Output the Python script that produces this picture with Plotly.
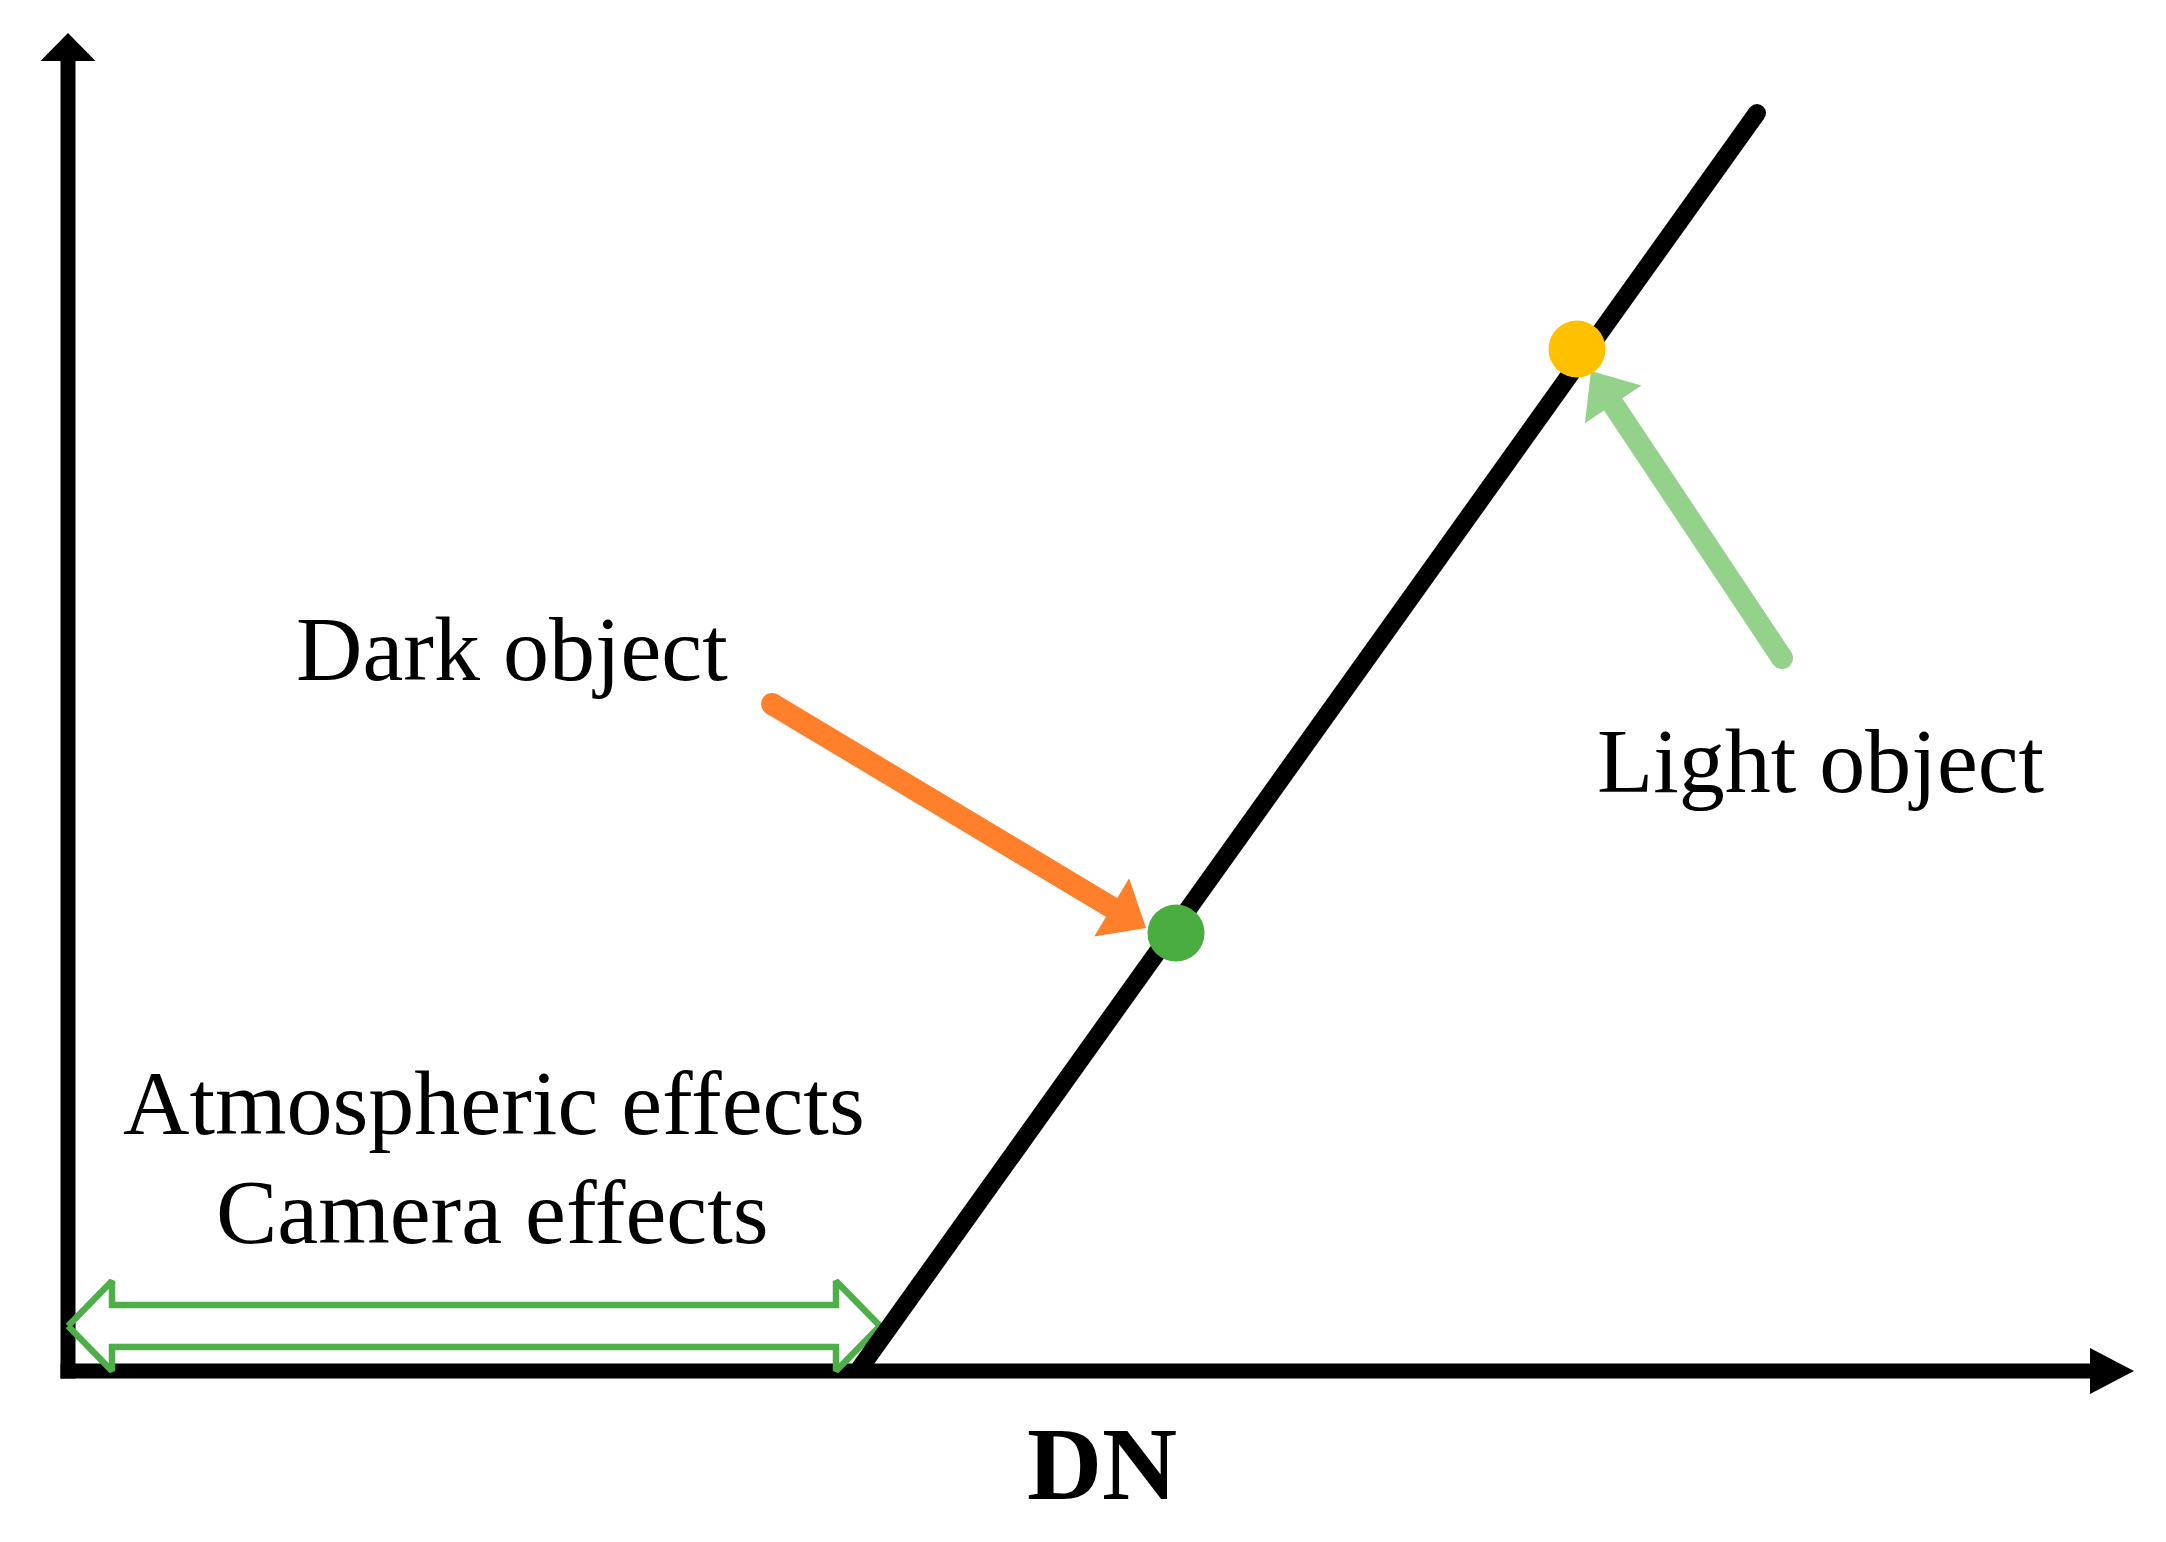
import numpy as np
import plotly.graph_objects as go

W, H = 2166, 1542
PX = 20.0  # screen pixels per schematic unit, same on both axes

# schematic axes: origin at (0, 0), arrow tips
axis_x_end = 103.3
axis_y_end = 66.9

# sensor response: zero until the DN offset, then linear
response_dn = [39.5, 84.45]
response_val = [0.0, 62.9]

# objects sitting on the response line
object_dn = [55.4, 75.45]
object_val = [21.9, 51.1]
object_colors = ["#4AAD3F", "#FFC000"]

# pointer arrows, tail -> tip
pointer_tail_dn = [35.2, 85.7]
pointer_tail_val = [33.35, 35.65]
pointer_tip_dn = [53.9, 76.15]
pointer_tip_val = [22.15, 50.0]
pointer_colors = ["#FF7F2A", "#94D18B"]

# DN offset caused by atmosphere / camera
offset_span = [0.0, 40.6]
offset_level = 2.25

# text labels and their anchors
label_text = ["Dark object", "Light object", "Atmospheric effects", "Camera effects"]
label_x = [22.2, 87.65, 21.3, 21.2]
label_y = [36.1, 30.5, 13.4, 7.95]
axis_title = "DN"
axis_title_x = 51.7
axis_title_y = -4.6

SERIF = "Liberation Serif, Times New Roman, serif"


def head(tip_x, tip_y, from_x, from_y, length, half):
    """Filled triangle head (sizes in px) and the point where the shaft should stop."""
    d = np.array([tip_x - from_x, tip_y - from_y], float)
    d /= np.hypot(*d)
    n = np.array([-d[1], d[0]])
    tip = np.array([tip_x, tip_y], float)
    base = tip - d * length / PX
    p1 = base + n * half / PX
    p2 = base - n * half / PX
    xs = [tip[0], p1[0], p2[0], tip[0]]
    ys = [tip[1], p1[1], p2[1], tip[1]]
    stop = tip - d * (length * 0.7) / PX
    return xs, ys, stop


def tri(fig, xs, ys, color):
    fig.add_trace(go.Scatter(
        x=xs, y=ys, mode="lines", fill="toself",
        fillcolor=color, line=dict(color=color, width=0),
        hoverinfo="skip", showlegend=False,
    ))


fig = go.Figure()

# axes
hx, hy, _ = head(axis_x_end, 0, 0, 0, 44, 23)
vx, vy, _ = head(0, axis_y_end, 0, 0, 28, 27.5)
fig.add_trace(go.Scatter(
    x=[0, 0, axis_x_end - 40 / PX],
    y=[axis_y_end - 26 / PX, 0, 0],
    mode="lines", line=dict(color="black", width=15),
    hoverinfo="skip", showlegend=False,
))
fig.add_trace(go.Scatter(
    x=[0], y=[0], mode="markers",
    marker=dict(symbol="square", size=15, color="black"),
    hoverinfo="skip", showlegend=False,
))
tri(fig, hx, hy, "black")
tri(fig, vx, vy, "black")

# offset double arrow (hollow outline)
x0, x1 = offset_span
yc = offset_level
hl, hh, sh = 44 / PX, 45 / PX, 21 / PX
ox = [x0, x0 + hl, x0 + hl, x1 - hl, x1 - hl, x1, x1 - hl, x1 - hl, x0 + hl, x0 + hl, x0]
oy = [yc, yc + hh, yc + sh, yc + sh, yc + hh, yc, yc - hh, yc - sh, yc - sh, yc - hh, yc]
fig.add_trace(go.Scatter(
    x=ox, y=oy, mode="lines", line=dict(color="#4EAE48", width=6.5),
    hoverinfo="skip", showlegend=False,
))

# response line with a rounded top end
fig.add_trace(go.Scatter(
    x=response_dn, y=response_val, mode="lines",
    line=dict(color="black", width=18),
    hoverinfo="skip", showlegend=False,
))
fig.add_trace(go.Scatter(
    x=[response_dn[-1]], y=[response_val[-1]], mode="markers",
    marker=dict(size=18, color="black"),
    hoverinfo="skip", showlegend=False,
))

# pointer arrows
for i in range(2):
    tx, ty = pointer_tail_dn[i], pointer_tail_val[i]
    px_, py_ = pointer_tip_dn[i], pointer_tip_val[i]
    c = pointer_colors[i]
    xs, ys, stop = head(px_, py_, tx, ty, 40, 34)
    fig.add_trace(go.Scatter(
        x=[tx, stop[0]], y=[ty, stop[1]], mode="lines",
        line=dict(color=c, width=22),
        hoverinfo="skip", showlegend=False,
    ))
    fig.add_trace(go.Scatter(
        x=[tx], y=[ty], mode="markers", marker=dict(size=22, color=c),
        hoverinfo="skip", showlegend=False,
    ))
    tri(fig, xs, ys, c)

# object dots
fig.add_trace(go.Scatter(
    x=object_dn, y=object_val, mode="markers",
    marker=dict(size=57, color=object_colors, line=dict(width=0)),
    hoverinfo="skip", showlegend=False,
))

for t, x, y in zip(label_text, label_x, label_y):
    fig.add_annotation(
        x=x, y=y, text=t, showarrow=False, xanchor="center", yanchor="middle",
        font=dict(family=SERIF, size=92, color="black"),
    )
fig.add_annotation(
    x=axis_title_x, y=axis_title_y, text="<b>%s</b>" % axis_title, showarrow=False,
    xanchor="center", yanchor="middle",
    font=dict(family=SERIF, size=104, color="black"),
)

fig.update_layout(
    width=W, height=H,
    margin=dict(l=0, r=0, t=0, b=0),
    paper_bgcolor="white", plot_bgcolor="white",
    showlegend=False,
)
fig.update_xaxes(visible=False, range=[-68 / PX, (W - 68) / PX], fixedrange=True)
fig.update_yaxes(visible=False, range=[-(H - 1371) / PX, 1371 / PX], fixedrange=True)

fig.write_html("out.html", config={"displayModeBar": False},
               post_script="document.body.style.margin='0';")
